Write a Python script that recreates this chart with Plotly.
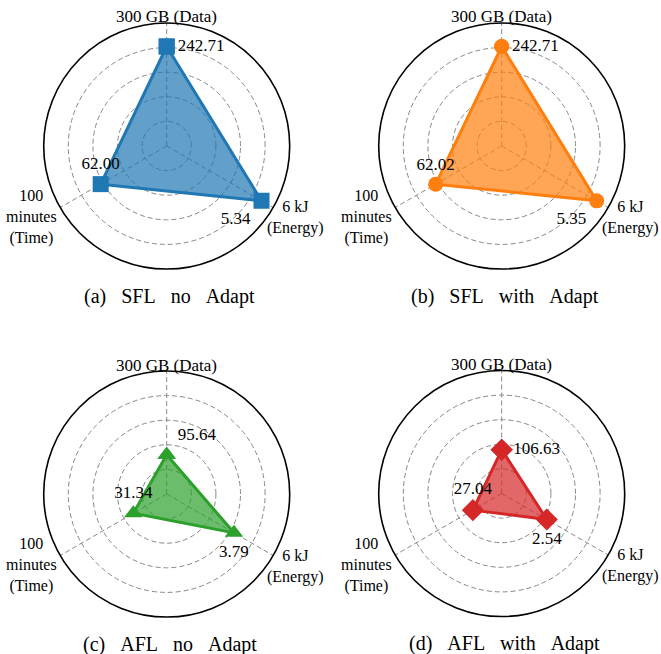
import plotly.graph_objects as go

W, H = 661, 654

# ---- data ----
axis_theta = [90, -30, 210]          # Data, Energy, Time directions
axis_max = [300, 6, 100]             # 300 GB, 6 kJ, 100 minutes
panel_titles = ["(a) SFL no Adapt", "(b) SFL with Adapt",
                "(c) AFL no Adapt", "(d) AFL with Adapt"]
data_gb = [242.71, 242.71, 95.64, 106.63]
energy_kj = [5.34, 5.35, 3.79, 2.54]
time_min = [62.00, 62.02, 31.34, 27.04]
radial_ticks = [0.2, 0.4, 0.6, 0.8]

# ---- style ----
colors = ["#1f77b4", "#ff7f0e", "#2ca02c", "#d62728"]
fills = ["rgba(31,119,180,0.7)", "rgba(255,127,14,0.7)",
         "rgba(44,160,44,0.7)", "rgba(214,39,40,0.7)"]
symbols = ["square", "circle", "triangle-up", "diamond"]
msizes = [16, 15, 16, 17]
textpos = [["middle right", "bottom left", "top center"],
           ["middle right", "bottom left", "top center"],
           ["top right", "bottom center", "top center"],
           ["middle right", "bottom center", "top center"]]
centers = [(166.7, 146), (501.7, 146), (166.7, 494), (501.7, 493.5)]
R = 123
FONT = "Liberation Serif"
GRID = "#888888"
DASH = "5px,3px"

fig = go.Figure()
annotations = []
layout_polars = {}

def nb(s):
    return s.replace(" ", "\u00a0\u00a0\u00a0")

for i in range(4):
    vals = [data_gb[i], energy_kj[i], time_min[i]]
    r = [v / m for v, m in zip(vals, axis_max)]
    th = list(axis_theta)
    texts = ["%.2f" % v for v in vals]
    key = "polar" if i == 0 else "polar%d" % (i + 1)
    fig.add_trace(go.Scatterpolar(
        r=r + [r[0]], theta=th + [th[0]],
        mode="lines+markers+text",
        text=texts + [""],
        textposition=textpos[i] + ["middle right"],
        textfont=dict(family=FONT, size=17, color="black"),
        fill="toself", fillcolor=fills[i],
        line=dict(color=colors[i], width=3),
        marker=dict(symbol=symbols[i], size=msizes[i], color=colors[i]),
        subplot=key, showlegend=False, cliponaxis=False, hoverinfo="skip",
    ))
    cx, cy = centers[i]
    layout_polars[key] = dict(
        domain=dict(x=[(cx - R) / W, (cx + R) / W],
                    y=[1 - (cy + R) / H, 1 - (cy - R) / H]),
        bgcolor="white",
        radialaxis=dict(range=[0, 1], tickvals=radial_ticks, showticklabels=False,
                        ticks="", showline=False, gridcolor=GRID, griddash=DASH,
                        gridwidth=1.4),
        angularaxis=dict(tickmode="array", tickvals=[90, 210, 330], showticklabels=False,
                         ticks="", rotation=0, direction="counterclockwise",
                         gridcolor=GRID, griddash=DASH, gridwidth=1.4,
                         showline=True, linecolor="black", linewidth=1.6),
    )

    def ann(text, dx, dy, size=17):
        annotations.append(dict(
            text=text, x=(cx + dx) / W, y=1 - (cy + dy) / H,
            xref="paper", yref="paper", xanchor="center", yanchor="middle",
            showarrow=False, borderpad=0,
            font=dict(family=FONT, size=size, color="black")))

    ann("300 GB (Data)", 0, -129)
    ann("6 kJ<br>(Energy)", 129, 72, 16)
    ann("100<br>minutes<br>(Time)", -135, 71, 16)
    ann(nb(panel_titles[i]), 3, 150, size=20)

fig.update_layout(
    width=W, height=H, template="none",
    paper_bgcolor="white", plot_bgcolor="white",
    margin=dict(l=0, r=0, t=0, b=0),
    annotations=annotations, showlegend=False,
    **layout_polars,
)

fig.write_html("out.html", config={"displayModeBar": False},
               post_script="document.body.style.margin='0px';document.body.style.overflow='hidden';")
